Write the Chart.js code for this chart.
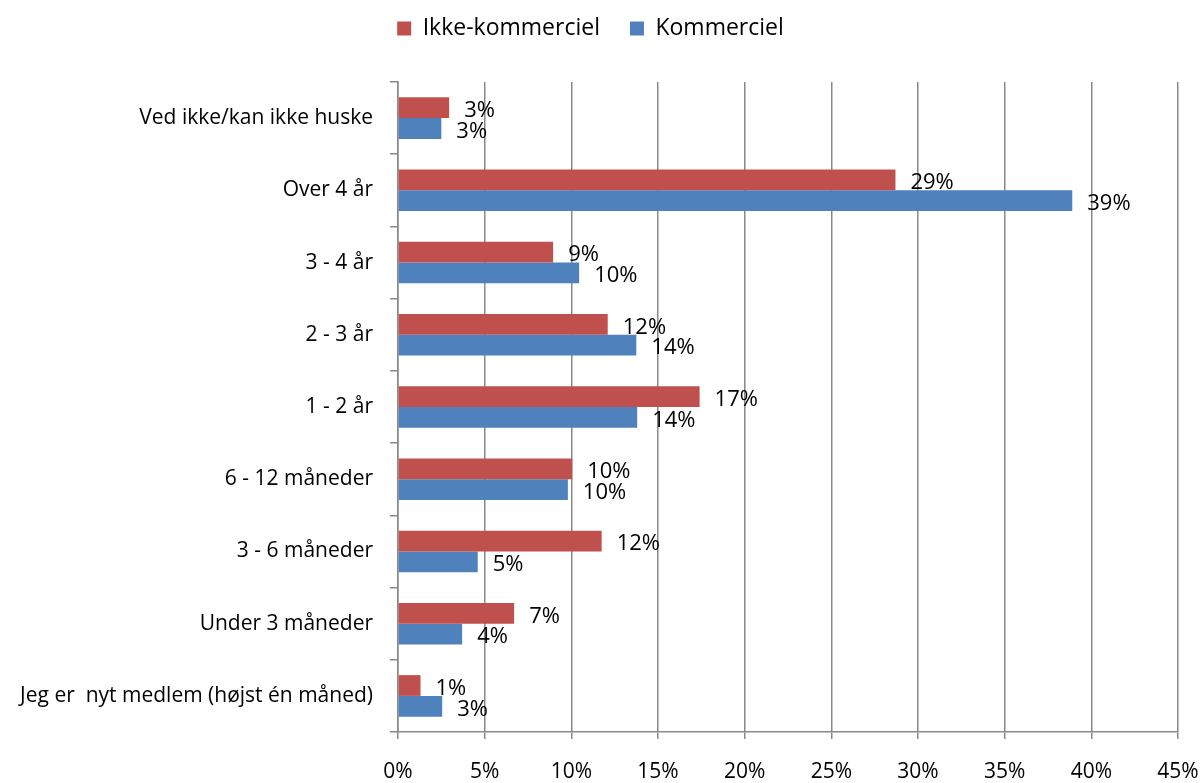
<!DOCTYPE html>
<html>
<head>
<meta charset="utf-8">
<script src="https://cdn.jsdelivr.net/npm/chart.js@4"></script>
<style>
  body { margin: 0; background: #fff; }
  #wrap { width: 1201px; height: 783px; }
</style>
</head>
<body>
<div id="wrap"><canvas id="chart" width="1201" height="783"></canvas></div>
<script>
//======================================
// Data
//======================================

const categories = [
    "Ved ikke/kan ikke huske",
    "Over 4 år",
    "3 - 4 år",
    "2 - 3 år",
    "1 - 2 år",
    "6 - 12 måneder",
    "3 - 6 måneder",
    "Under 3 måneder",
    "Jeg er  nyt medlem (højst én måned)"
];

const seriesNames = ["Ikke-kommerciel", "Kommerciel"];

const ikkeKommerciel = [2.95, 28.7, 8.95, 12.1, 17.4, 10.05, 11.75, 6.7, 1.3];
const kommerciel = [2.5, 38.9, 10.45, 13.75, 13.8, 9.8, 4.6, 3.7, 2.55];

const xTicks = [0, 5, 10, 15, 20, 25, 30, 35, 40, 45];

const RED = "#C0504D";
const BLUE = "#4F81BD";
const GRID = "#888888";
const FONT = "'Open Sans', sans-serif";

//======================================
// Plugins
//======================================

// value labels right of each bar end
const valueLabels = {
    id: "valueLabels",
    afterDatasetsDraw(chart) {
        const ctx = chart.ctx;
        ctx.save();
        ctx.font = "22px " + FONT;
        ctx.fillStyle = "#000";
        ctx.textAlign = "left";
        ctx.textBaseline = "middle";
        chart.data.datasets.forEach((ds, i) => {
            chart.getDatasetMeta(i).data.forEach((bar, j) => {
                ctx.fillText(Math.round(ds.data[j]) + "%", bar.x + 15, bar.y + 3);
            });
        });
        ctx.restore();
    }
};

// legend box height and position
const legendPlace = {
    id: "legendPlace",
    beforeLayout(chart) {
        const lg = chart.legend;
        if (lg && !lg._patched) {
            const fit = lg.fit;
            lg.fit = function () {
                fit.call(this);
                this.height = 82;
            };
            lg._patched = true;
        }
    },
    afterLayout(chart) {
        const lg = chart.legend;
        lg.top = -13;
        lg.bottom = lg.top + lg.height;
        lg.left = -10;
        lg.right = lg.left + lg.width;
    }
};

//======================================
// Chart
//======================================

new Chart(document.getElementById("chart"), {
    type: "bar",
    data: {
        labels: categories,
        datasets: [
            {
                label: seriesNames[0],
                data: ikkeKommerciel,
                backgroundColor: RED,
                categoryPercentage: 0.575,
                barPercentage: 1
            },
            {
                label: seriesNames[1],
                data: kommerciel,
                backgroundColor: BLUE,
                categoryPercentage: 0.575,
                barPercentage: 1
            }
        ]
    },
    options: {
        indexAxis: "y",
        responsive: false,
        animation: false,
        layout: { padding: 0 },
        plugins: {
            legend: {
                position: "top",
                labels: {
                    boxWidth: 14,
                    boxHeight: 14,
                    padding: 30,
                    color: "#000",
                    font: { family: FONT, size: 23 }
                }
            },
            tooltip: { enabled: false }
        },
        scales: {
            x: {
                min: 0,
                max: 45,
                afterBuildTicks(scale) {
                    scale.ticks = xTicks.map(v => ({ value: v }));
                },
                afterFit(scale) {
                    scale.height = 51;
                    scale.paddingRight = 23;
                },
                grid: {
                    color: GRID,
                    lineWidth: 1.5,
                    tickLength: 7
                },
                border: { color: GRID, width: 1.5 },
                ticks: {
                    padding: 20,
                    color: "#000",
                    font: { family: FONT, size: 21 },
                    callback: v => v + "%"
                }
            },
            y: {
                afterFit(scale) {
                    scale.width = 398;
                },
                grid: {
                    drawOnChartArea: false,
                    color: GRID,
                    lineWidth: 1.5,
                    tickLength: 8
                },
                border: { color: GRID, width: 1.5 },
                ticks: {
                    padding: 17,
                    color: "#000",
                    font: { family: FONT, size: 21 }
                }
            }
        }
    },
    plugins: [valueLabels, legendPlace]
});
</script>
</body>
</html>
